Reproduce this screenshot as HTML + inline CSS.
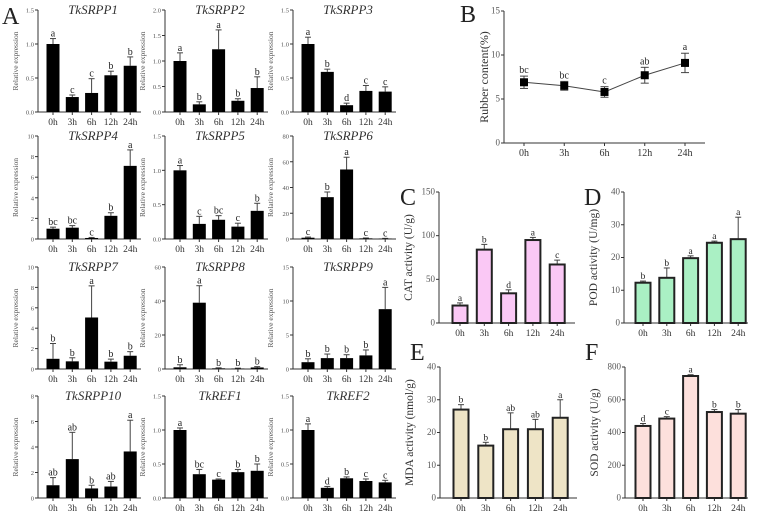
<!DOCTYPE html>
<html><head><meta charset="utf-8"><style>
html,body{margin:0;padding:0;background:#fff}
svg{display:block;font-family:"Liberation Serif",serif}
</style></head><body>
<svg id="fig" width="761" height="520" viewBox="0 0 761 520" xmlns="http://www.w3.org/2000/svg"></svg>
<script>
const categories=["0h","3h","6h","12h","24h"];
// Panel A
const aNames=["TkSRPP1","TkSRPP2","TkSRPP3","TkSRPP4","TkSRPP5","TkSRPP6","TkSRPP7","TkSRPP8","TkSRPP9","TkSRPP10","TkREF1","TkREF2"];
const aMax=[1.5,2.0,1.5,10,1.5,80,10,60,15,8,1.5,1.5];
const aTicks=[["0.0","0.5","1.0","1.5"],["0.0","0.5","1.0","1.5","2.0"],["0.0","0.5","1.0","1.5"],["0","2","4","6","8","10"],["0.0","0.5","1.0","1.5"],["0","20","40","60","80"],["0","2","4","6","8","10"],["0","20","40","60"],["0","5","10","15"],["0","2","4","6","8"],["0.0","0.5","1.0","1.5"],["0.0","0.5","1.0","1.5"]];
const aVals=[[1.0,0.22,0.28,0.54,0.68],[1.0,0.15,1.23,0.22,0.47],[1.0,0.59,0.1,0.31,0.3],[1.0,1.1,0.1,2.25,7.1],[1.0,0.22,0.28,0.18,0.41],[1,32.5,54,0.5,0.3],[1.0,0.75,5.05,0.72,1.3],[1,39,0.4,0.3,0.9],[1,1.6,1.6,2,8.8],[1,3.05,0.75,0.9,3.65],[1.0,0.35,0.27,0.38,0.4],[1.0,0.15,0.29,0.25,0.23]];
const aErrs=[[.08,.03,.21,.06,.13],[.16,.05,.38,.04,.22],[.1,.04,.03,.08,.07],[.15,.2,.05,.3,1.55],[.07,.11,.06,.05,.11],[.5,4,9.5,.3,.2],[1.5,.35,3.1,.25,.4],[1.5,10,.3,.2,.5],[.5,.6,.5,.8,3.2],[.6,2.1,.25,.4,2.45],[.03,.07,.01,.04,.1],[.09,.02,.02,.03,.03]];
const aLetters=[["a","c","c","b","b"],["a","b","a","b","b"],["a","b","d","c","c"],["bc","bc","c","b","a"],["a","c","bc","c","b"],["c","b","a","c","c"],["b","b","a","b","b"],["b","a","b","b","b"],["b","b","b","b","a"],["ab","ab","b","ab","a"],["a","bc","c","b","b"],["a","d","b","c","c"]];
// Panel B
const bVals=[6.9,6.5,5.8,7.7,9.1];
const bErrs=[0.7,0.5,0.6,0.9,1.1];
const bLetters=["bc","bc","c","ab","a"];
const bTicks=["0","5","10","15"];
// Panels C-F
const cVals=[20,84,34,95,67], cErrs=[3,6,4,3,5], cLetters=["a","b","d","a","c"], cTicks=["0","50","100","150"];
const dVals=[12.3,13.8,19.8,24.5,25.6], dErrs=[0.5,3,0.7,0.5,6.7], dLetters=["b","b","a","a","a"], dTicks=["0","10","20","30","40"];
const eVals=[27,16,21,21,24.5], eErrs=[1.5,1,5,3,5.5], eLetters=["b","b","ab","ab","a"], eTicks=["0","10","20","30","40"];
const fVals=[440,485,745,525,515], fErrs=[15,12,8,15,25], fLetters=["d","c","a","b","b"], fTicks=["0","200","400","600","800"];

const svg=document.getElementById('fig');
const NS="http://www.w3.org/2000/svg";
function mk(tag,attrs,parent,text){const e=document.createElementNS(NS,tag);for(const k in attrs)e.setAttribute(k,attrs[k]);if(text!==undefined)e.textContent=text;(parent||svg).appendChild(e);return e;}

function axes(g,ax,top,bot,xEnd,ticks,max,tickSize,xs,xlSize){
  const y=v=>bot-(v/max)*(bot-top);
  mk('line',{x1:ax,y1:top,x2:ax,y2:bot,stroke:'#333','stroke-width':1},g);
  mk('line',{x1:ax,y1:bot,x2:xEnd,y2:bot,stroke:'#333','stroke-width':1},g);
  ticks.forEach(t=>{const v=parseFloat(t),yy=y(v);
    mk('line',{x1:ax-3,y1:yy,x2:ax,y2:yy,stroke:'#333'},g);
    const tl=mk('text',{x:ax-4,y:yy+2.5,'font-size':tickSize,'text-anchor':'end',fill:'#555'},g,t);
    
    
  });
  categories.forEach((c,i)=>{
    mk('line',{x1:xs(i),y1:bot,x2:xs(i),y2:bot+3,stroke:'#333'},g);
    const xl=mk('text',{x:xs(i),y:bot+13,'font-size':xlSize,'text-anchor':'middle',fill:'#333'},g,c);
    
    
  });
  return y;
}

function barPanel(name,ax,top,bot,xEnd,x0,dx,bw,max,ticks,vals,errs,letters,fill,stroke,sw,tickSize,xlSize,letSize){
  const g=mk('g',{});
  
  
  const xs=i=>x0+i*dx;
  const y=axes(g,ax,top,bot,xEnd,ticks,max,tickSize,xs,xlSize);
  vals.forEach((v,i)=>{
    const yt=y(v+errs[i]);
    mk('line',{x1:xs(i),y1:y(v),x2:xs(i),y2:yt,stroke:'#444','stroke-width':1},g);
    mk('line',{x1:xs(i)-3,y1:yt,x2:xs(i)+3,y2:yt,stroke:'#444','stroke-width':1},g);
    const b=mk('rect',{x:xs(i)-bw/2,y:y(v),width:bw,height:bot-y(v),fill:fill,stroke:stroke,'stroke-width':sw},g);
    
    
    const l=mk('text',{x:xs(i),y:yt-2,'font-size':letSize,'text-anchor':'middle',fill:'#222'},g,letters[i]);
    
    
  });
  return g;
}

// Panel A grid
const colAx=[38,165,293], rowTop=[10,136,267,396], rowBot=[112,239,369,498];
aNames.forEach((n,k)=>{
  const r=Math.floor(k/3),c=k%3,ax=colAx[c];
  const g=barPanel('panel-'+n.toLowerCase(),ax,rowTop[r],rowBot[r],ax+103,ax+15,19.3,13,aMax[k],aTicks[k],aVals[k],aErrs[k],aLetters[k],'#000','#000',0,6.5,9.5,10);
  const t=mk('text',{x:ax+55,y:rowTop[r]+4,'font-size':13,'font-style':'italic','text-anchor':'middle',fill:'#333'},g,n);
  
  
  const cy=(rowTop[r]+rowBot[r])/2;
  const yl=mk('text',{x:ax-20,y:cy,'font-size':7.5,'text-anchor':'middle',fill:'#555',transform:`rotate(-90 ${ax-20} ${cy})`},g,'Relative expression');
  
  
});
const la=mk('text',{x:2,y:24,'font-size':24,fill:'#222'},svg,'A');



// Panel B
(function(){
  const g=mk('g',{});
  
  
  const bx=[524,563,605,644,685];
  const xs=i=>524+i*40.25;
  const y=axes(g,504,11,143,705,bTicks,15,9,xs,10);
  let d='';
  bVals.forEach((v,i)=>{d+=(i?'L':'M')+xs(i)+' '+y(v);});
  const ln=mk('path',{d:d,fill:'none',stroke:'#444','stroke-width':1},g);
  
  
  bVals.forEach((v,i)=>{
    const y1=y(v+bErrs[i]),y2=y(v-bErrs[i]);
    mk('line',{x1:xs(i),y1:y1,x2:xs(i),y2:y2,stroke:'#444'},g);
    mk('line',{x1:xs(i)-4,y1:y1,x2:xs(i)+4,y2:y1,stroke:'#444'},g);
    mk('line',{x1:xs(i)-4,y1:y2,x2:xs(i)+4,y2:y2,stroke:'#444'},g);
    const p=mk('rect',{x:xs(i)-4,y:y(v)-4,width:8,height:8,fill:'#000'},g);
    
    
    const l=mk('text',{x:xs(i),y:y1-3,'font-size':10,'text-anchor':'middle',fill:'#222'},g,bLetters[i]);
    
    
  });
  const yl=mk('text',{x:488,y:77,'font-size':12,'text-anchor':'middle',fill:'#333',transform:'rotate(-90 488 77)'},g,'Rubber content(%)');
  
  
  const lb=mk('text',{x:460,y:22,'font-size':24,fill:'#222'},g,'B');
  
  
})();

// Panels C-F
const defs=[
 ['panel-c-cat',439,192,323,575,460,24.3,150,cTicks,cVals,cErrs,cLetters,'#fac8f5','CAT activity (U/g)','C',400,205],
 ['panel-d-pod',624,192,323,748,643,23.8,40,dTicks,dVals,dErrs,dLetters,'#aaf0c4','POD activity (U/mg)','D',584,205],
 ['panel-e-mda',440,367,498,577,461,24.8,40,eTicks,eVals,eErrs,eLetters,'#eee4c6','MDA activity (nmol/g)','E',410,360],
 ['panel-f-sod',625,367,498,748,643,23.8,800,fTicks,fVals,fErrs,fLetters,'#fde0dc','SOD activity (U/g)','F',585,360]
];
defs.forEach(p=>{
  const g=barPanel(p[0],p[1],p[2],p[3],p[4],p[5],p[6],15,p[7],p[8],p[9],p[10],p[11],p[12],'#222',2,9,9.5,9.5);
  const cy=(p[2]+p[3])/2,xx=p[1]-27;
  const yl=mk('text',{x:xx,y:cy,'font-size':11.5,'text-anchor':'middle',fill:'#333',transform:`rotate(-90 ${xx} ${cy})`},g,p[13]);
  
  
  const lb=mk('text',{x:p[15],y:p[16],'font-size':24,fill:'#222'},g,p[14]);
  
  
});
</script>
</body></html>
